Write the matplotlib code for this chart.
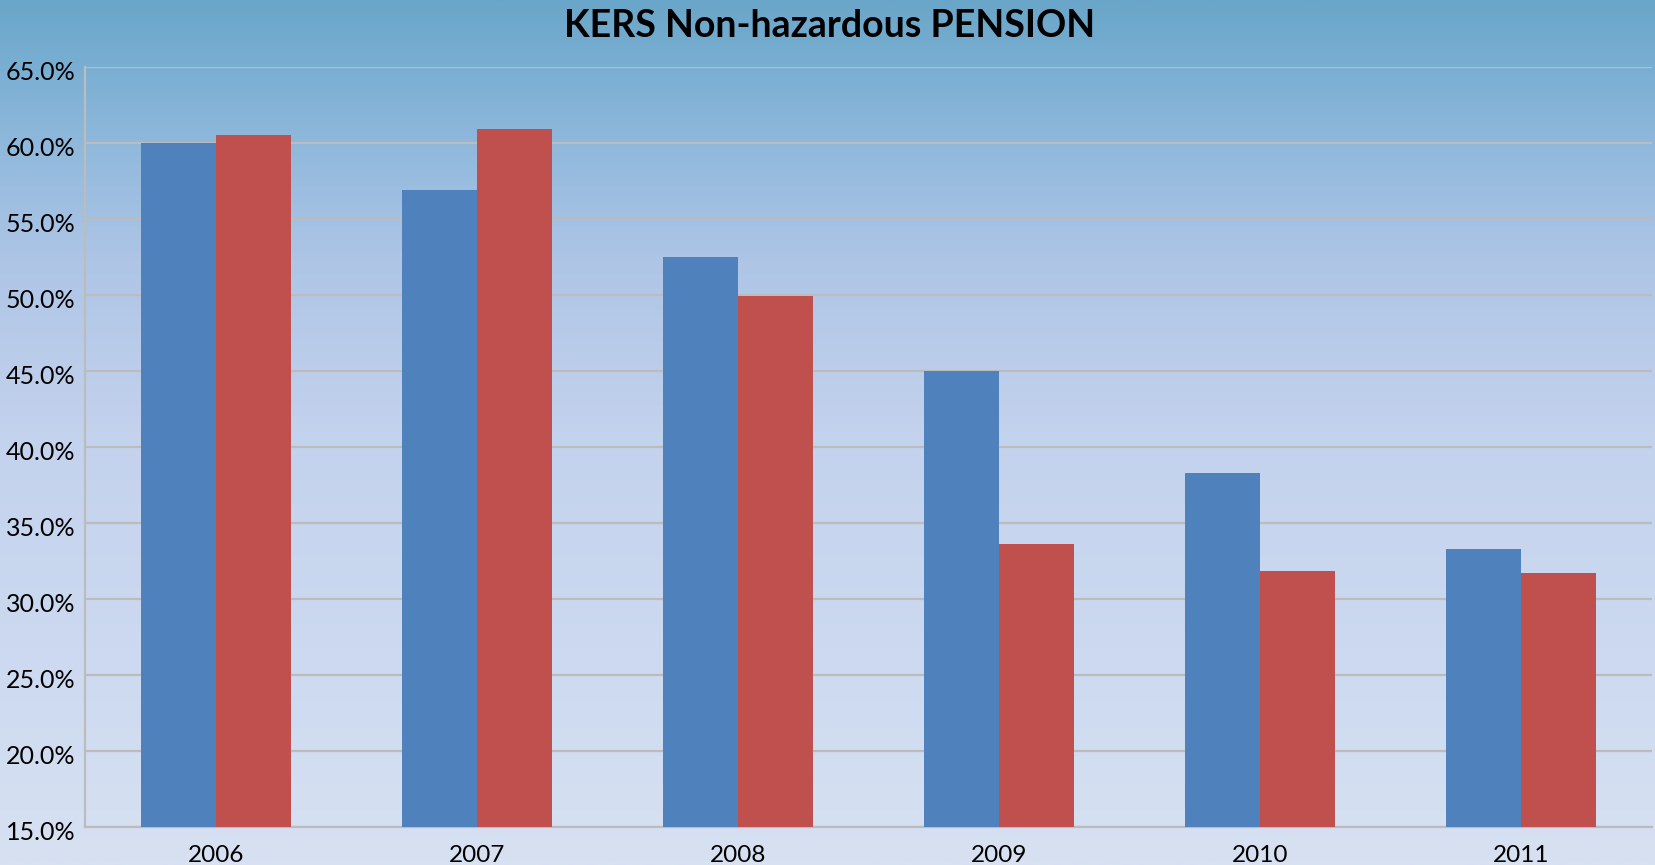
import numpy as np
import matplotlib
matplotlib.use("Agg")
import matplotlib.pyplot as plt
import matplotlib.transforms as mtransforms
from matplotlib.colors import LinearSegmentedColormap
from matplotlib.ticker import FuncFormatter

plt.rcParams['font.family'] = ['Lato', 'DejaVu Sans']

# data (percent)
years = ['2006', '2007', '2008', '2009', '2010', '2011']
series_blue = [60.0, 56.9, 52.5, 45.0, 38.3, 33.3]
series_red = [60.5, 60.9, 49.9, 33.6, 31.8, 31.7]

fig = plt.figure(figsize=(16.55, 8.65), dpi=100)

# background gradient, top (steel blue) to bottom (pale lavender)
bg = fig.add_axes([0, 0, 1, 1], zorder=-1)
stops = [(0.0, '#6aa6c9'), (0.08, '#7aafd3'), (0.18, '#93badd'),
         (0.30, '#aec5e6'), (0.50, '#c3d2ed'), (0.75, '#ccd9f0'), (1.0, '#d7e1f2')]
cmap = LinearSegmentedColormap.from_list('bg', stops)
grad = np.linspace(0, 1, 512).reshape(-1, 1)
bg.imshow(grad, aspect='auto', cmap=cmap, extent=[0, 1, 0, 1])
bg.axis('off')

ax = fig.add_axes([0.0514, 0.0443, 0.9466, 0.8786])
ax.set_facecolor('none')

x = np.arange(len(years))
w = 0.287
ax.bar(x - w / 2, series_blue, w, color='#4f81bd', zorder=3)
ax.bar(x + w / 2, series_red, w, color='#c0504d', zorder=3)

ax.set_xlim(-0.5, len(years) - 0.5)
ax.set_ylim(15, 65)
ax.set_yticks(np.arange(15, 65.1, 5))
ax.yaxis.set_major_formatter(FuncFormatter(lambda v, p: '%.1f%%' % v))
ax.set_xticks(x)
ax.set_xticklabels(years)

ax.grid(axis='y', color='#bcbcbc', linewidth=1.6, zorder=0)
for s in ['top', 'right']:
    ax.spines[s].set_visible(False)
for s in ['left', 'bottom']:
    ax.spines[s].set_color('#bcbcbc')
    ax.spines[s].set_linewidth(1.6)
ax.tick_params(axis='y', length=0, labelsize=18, colors='black', pad=7)
ax.tick_params(axis='x', length=0, labelsize=17.5, colors='black', pad=13)

# y labels sit a little below their gridlines in the original
shift = mtransforms.ScaledTranslation(0, -4 / 100, fig.dpi_scale_trans)
for lbl in ax.get_yticklabels():
    lbl.set_transform(lbl.get_transform() + shift)

fig.text(0.5015, 0.970, 'KERS Non-hazardous PENSION', ha='center', va='center',
         fontsize=27, fontweight='bold')

fig.savefig('out.png', dpi=100)
